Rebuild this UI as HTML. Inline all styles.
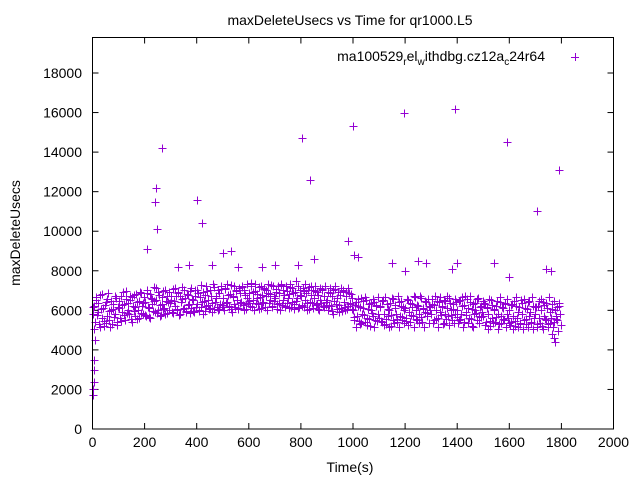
<!DOCTYPE html>
<html><head><meta charset="utf-8"><style>
body{margin:0;background:#fff;}
svg{display:block;font-family:"Liberation Sans",sans-serif;}
</style></head><body>
<svg id="chart" width="640" height="480">
<text x="350" y="25" font-size="14" text-anchor="middle">maxDeleteUsecs vs Time for qr1000.L5</text>
<text x="545" y="61" font-size="14" text-anchor="end">ma100529<tspan font-size="10" dy="4">r</tspan><tspan dy="-4">el</tspan><tspan font-size="10" dy="4">w</tspan><tspan dy="-4">ithdbg.cz12a</tspan><tspan font-size="10" dy="4">c</tspan><tspan dy="-4">24r64</tspan></text>
<g stroke="#9400d3" stroke-width="1"><line x1="571" y1="57.5" x2="579" y2="57.5"/><line x1="575.5" y1="53" x2="575.5" y2="61"/></g>
<g id="axes"></g>
<g id="points" stroke="#9400d3" stroke-width="1" fill="none"></g>
<rect x="92.5" y="37.5" width="521" height="391.5" fill="none" stroke="#000" stroke-width="1"/>
<text x="350" y="472" font-size="14" text-anchor="middle">Time(s)</text>
<text x="20" y="233" font-size="14" text-anchor="middle" transform="rotate(-90 20 233)">maxDeleteUsecs</text>
</svg>
<script>
const xTicks=[0,200,400,600,800,1000,1200,1400,1600,1800,2000];
const yTicks=[0,2000,4000,6000,8000,10000,12000,14000,16000,18000];
const baseStep=5;
const baseValues=[
5800,6200,5400,6500,5900,5300,6800,5600,6100,5200,6400,5700,6900,5500,6000,5300,6300,5800,6600,5400,
6100,5600,6700,5900,6300,5500,7000,6000,5800,6500,5400,6200,6800,5700,6400,6000,5600,6900,6200,5800,
6400,5700,6900,6100,5600,6600,6300,7200,5900,6500,6000,6800,5700,6300,7000,6100,5800,6700,6400,6000,
6500,5900,7100,6200,6700,6000,6900,5800,6400,7200,6100,6600,5900,6800,6300,7000,6100,6500,5900,6700,
6300,6900,6000,7300,6400,5800,6800,6200,7000,6500,6100,6700,5900,7200,6400,6600,6000,6900,6300,7100,
6600,6000,7100,6400,6800,6200,7300,5900,6700,6300,7000,6500,6100,6900,6400,7200,6000,6800,6300,6600,
6900,6200,7400,6500,6000,7000,6600,6300,7200,6100,6800,6400,7100,6700,6000,6900,6500,7300,6200,6700,
6600,7100,6300,6900,6000,7300,6500,6800,6200,7000,6600,6100,7200,6400,6900,6300,7500,6600,6100,6800,
6700,6200,7000,6500,6900,6000,7200,6400,6800,6100,6600,7000,6300,6800,6000,6500,7100,6200,6700,6400,
6500,6000,6900,6200,6700,5800,7100,6300,6600,5900,6800,6100,7000,6400,6000,6700,6200,6900,6300,6600,
6000,5500,6400,5700,6200,5300,6600,5800,6100,5400,6500,5600,6300,5200,6000,5700,6400,5500,6200,5800,
5600,6200,5400,6500,5800,5300,6300,5700,6000,5200,6600,5500,6100,5800,5400,6400,5700,6200,5500,6000,
6100,5600,6500,5900,5400,6300,5700,6700,6000,5500,6200,5800,6600,5400,6100,5900,6400,5700,6200,6000,
5800,6300,5500,6700,6000,5600,6400,5900,6200,5300,6500,5800,6100,5700,6600,6000,5500,6300,5800,6400,
6000,5500,6500,5800,6200,5400,6700,5900,6100,5600,6400,5200,6300,5800,6000,5500,6600,5700,6200,5900,
5700,6300,5400,6100,5800,5200,6500,5600,6000,5400,6200,5800,5300,6400,5700,6100,5500,6300,5800,5600,
6000,5400,6300,5700,5200,6200,5600,5900,5300,6500,5800,5500,6100,5300,6400,5700,5900,5400,6200,5600,
5800,5300,6200,5600,6000,5200,6400,5700,5500,6100,5300,5900,5600,6300,5400,6000,5700,5500,6200,5800];
const secondValues=[
6150,5050,6650,5750,6350,5150,6050,6850,5450,6250,5350,6550,5950,5150,6450,6050,5650,6750,5250,6150,
6450,5450,6250,6950,5750,6550,5850,6350,6750,5550,6650,5950,6150,6850,5550,6450,6950,5850,6350,6650,
5750,7050,6150,5650,6850,6550,5950,6450,7150,5850,6950,6250,5750,6650,6050,7050,6450,5850,6950,6350,
6750,5850,6450,7150,6050,6950,5750,6750,6550,6050,7050,5950,6850,6250,5850,7150,6550,5950,7050,6150,
7050,5950,6650,6150,6950,6450,5950,7250,6250,6050,7050,6350,7350,6050,6750,6150,7050,6050,7250,6250,
6150,7150,6350,7350,6150,6850,6050,6650,7250,6150,7050,6050,7150,6350,7250,6250,7050,6050,7350,6350,
6450,7250,6150,6950,7350,6350,6850,6050,6650,7250,6350,7150,6150,7050,7350,6350,6850,6150,7250,6450,
6950,6050,7250,6350,7350,6250,7050,6150,7250,6350,6850,7350,6150,7150,6050,6950,6450,7250,6150,7050,
6250,7150,6150,7350,6350,7050,6050,7250,6350,7050,7250,6250,6950,6050,7150,6350,7050,6150,7250,6250,
6950,6250,7150,5950,7050,6450,7250,6050,6950,6250,7150,5950,7050,6150,6950,6050,7150,6350,6850,6050,
5650,6250,5150,6550,5450,6150,5350,6450,5750,6650,5250,6050,5550,6350,5850,6550,5150,6250,5450,6650,
6150,5450,6450,5250,6650,5550,6050,5150,6350,5750,6550,5350,6250,5550,6750,5150,6450,5650,6150,5350,
5450,6550,5250,6350,5750,6150,5150,6650,5550,6250,5350,6750,5650,6050,5150,6450,5850,6550,5350,6150,
6550,5350,6250,5550,6450,5150,6650,5750,6150,5350,6450,5550,6750,5250,6350,5750,6050,5350,6550,5650,
5350,6450,5550,6650,5150,6250,5750,6550,5350,6750,5550,6050,5150,6350,5850,6550,5350,6150,5650,6450,
6350,5250,6150,5050,6550,5450,6250,5350,6050,5650,6450,5050,6650,5350,6150,5550,6350,5150,6550,5350,
5250,6250,5050,6450,5450,6650,5150,6150,5350,6350,5050,6550,5550,6050,5150,6450,5350,6650,5050,6150,
6150,5150,6450,5350,6550,5050,6250,5550,6350,5150,6650,5350,6050,5150,6450,5550,6150,4950,6350,5250];
const extraTimes=[2,3,4,5,6,8,210,240,245,248,265,400,420,805,835,980,1000,1195,1390,1590,1705,1790,1020,1150,1200,1250,1280,1380,1400,1540,1740,1760,1600,500,530,460,370,330,560,650,700,790,850,1003,1770,1775,1762];
const extraValues=[1700,2000,2400,3000,3500,4500,9100,11500,12200,10100,14200,11600,10400,14700,12600,9500,15300,16000,16200,14500,11000,13100,8700,8400,8000,8500,8400,8100,8400,8400,8100,8000,7700,8900,9000,8300,8300,8200,8200,8200,8300,8300,8600,8800,4600,4400,4800];
const X0=92.5,X1=613.5,Y0=429,YT=73;
const sx=v=>X0+(v/2000)*(X1-X0);
const sy=v=>Y0-(v/18000)*(Y0-YT);
const NS="http://www.w3.org/2000/svg";
const axes=document.getElementById('axes');
function mk(tag,attrs,parent){const e=document.createElementNS(NS,tag);for(const k in attrs)e.setAttribute(k,attrs[k]);parent.appendChild(e);return e;}
xTicks.forEach(t=>{
 const x=sx(t);
 const l=mk('line',{x1:x,y1:429,x2:x,y2:423,stroke:'#000'},axes);
 
 
 const l2=mk('line',{x1:x,y1:37.5,x2:x,y2:43.5,stroke:'#000'},axes);
 
 
 const tx=mk('text',{x:x,y:447,'font-size':14,'text-anchor':'middle'},axes);
 tx.textContent=t;
 
 
});
yTicks.forEach(t=>{
 const y=sy(t);
 const l=mk('line',{x1:92.5,y1:y,x2:98.5,y2:y,stroke:'#000'},axes);
 
 
 const l2=mk('line',{x1:613.5,y1:y,x2:607.5,y2:y,stroke:'#000'},axes);
 
 
 const tx=mk('text',{x:82,y:y+5,'font-size':14,'text-anchor':'end'},axes);
 tx.textContent=t;
 
 
});
const pts=document.getElementById('points');
function cross(t,v){
 const x=Math.round(sx(t))+0.5,y=Math.round(sy(v))+0.5;
 const p=mk('path',{d:`M${x-4},${y}H${x+4}M${x},${y-4}V${y+4}`},pts);
 
 
}
baseValues.forEach((v,i)=>cross(i*baseStep,v));
secondValues.forEach((v,i)=>cross(i*baseStep+2.5,v));
extraValues.forEach((v,i)=>cross(extraTimes[i],v));
</script>
</body></html>
